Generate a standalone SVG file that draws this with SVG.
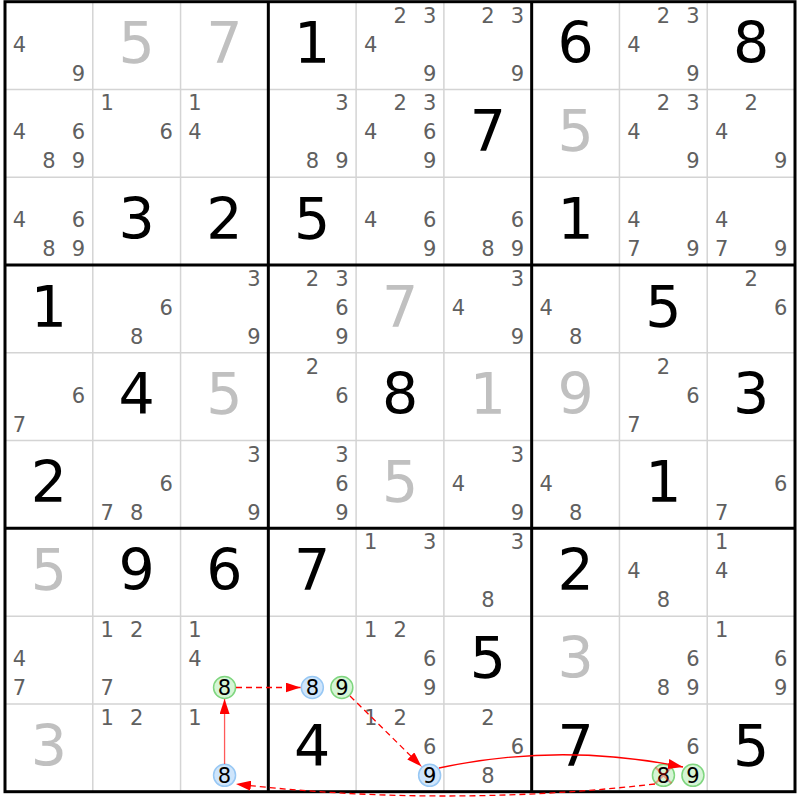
<svg xmlns="http://www.w3.org/2000/svg" width="800" height="800" viewBox="0 0 800 800">
<style>
text{font-family:"DejaVu Sans","Liberation Sans",sans-serif;text-anchor:middle}
.b{font-size:57px;fill:#000}
.g{font-size:57px;fill:#c0c0c0}
.c{font-size:21px;fill:#606060}
.h{font-size:21px;fill:#000}
.thin{stroke:#d4d4d4;stroke-width:1.5}
.thick{stroke:#000;stroke-width:3}
.cb{fill:#cfe5fb;stroke:#98c8f4;stroke-width:1.5}
.cg{fill:#d6f5d6;stroke:#7fd67f;stroke-width:1.5}
.ar{fill:none;stroke:#f00;stroke-width:1.3}
.da{stroke-dasharray:6 4}
</style>
<defs>
<marker id="ah" markerWidth="15" markerHeight="10" refX="15" refY="5" orient="auto" markerUnits="userSpaceOnUse"><path d="M0,0 L15,5 L0,10 z" fill="#f00"/></marker>
</defs>
<rect x="0" y="0" width="800" height="800" fill="#fff"/>
<g id="grid">
<path class="thin" d="M92.78,1.7V791.7M180.56,1.7V791.7M356.11,1.7V791.7M443.89,1.7V791.7M619.44,1.7V791.7M707.22,1.7V791.7M5,89.48H795M5,177.26H795M5,352.81H795M5,440.59H795M5,616.14H795M5,703.92H795"/>
<path class="thick" d="M268.33,1.7V791.7M531.67,1.7V791.7M5,265.03H795M5,528.37H795"/>
<rect class="thick" x="5" y="1.7" width="790" height="790" fill="none"/>
</g>
<!-- row 1 -->
<g id="r1c1" transform="translate(5,1.7)"><text class="c" x="14.5" y="50">4</text><text class="c" x="73.5" y="79">9</text></g>
<g id="r1c2" transform="translate(92.78,1.7)"><text class="g" x="43.9" y="61.6">5</text></g>
<g id="r1c3" transform="translate(180.56,1.7)"><text class="g" x="43.9" y="61.6">7</text></g>
<g id="r1c4" transform="translate(268.33,1.7)"><text class="b" x="43.9" y="61.6">1</text></g>
<g id="r1c5" transform="translate(356.11,1.7)"><text class="c" x="44" y="21">2</text><text class="c" x="73.5" y="21">3</text><text class="c" x="14.5" y="50">4</text><text class="c" x="73.5" y="79">9</text></g>
<g id="r1c6" transform="translate(443.89,1.7)"><text class="c" x="44" y="21">2</text><text class="c" x="73.5" y="21">3</text><text class="c" x="73.5" y="79">9</text></g>
<g id="r1c7" transform="translate(531.67,1.7)"><text class="b" x="43.9" y="61.6">6</text></g>
<g id="r1c8" transform="translate(619.44,1.7)"><text class="c" x="44" y="21">2</text><text class="c" x="73.5" y="21">3</text><text class="c" x="14.5" y="50">4</text><text class="c" x="73.5" y="79">9</text></g>
<g id="r1c9" transform="translate(707.22,1.7)"><text class="b" x="43.9" y="61.6">8</text></g>
<!-- row 2 -->
<g id="r2c1" transform="translate(5,89.48)"><text class="c" x="14.5" y="50">4</text><text class="c" x="73.5" y="50">6</text><text class="c" x="44" y="79">8</text><text class="c" x="73.5" y="79">9</text></g>
<g id="r2c2" transform="translate(92.78,89.48)"><text class="c" x="14.5" y="21">1</text><text class="c" x="73.5" y="50">6</text></g>
<g id="r2c3" transform="translate(180.56,89.48)"><text class="c" x="14.5" y="21">1</text><text class="c" x="14.5" y="50">4</text></g>
<g id="r2c4" transform="translate(268.33,89.48)"><text class="c" x="73.5" y="21">3</text><text class="c" x="44" y="79">8</text><text class="c" x="73.5" y="79">9</text></g>
<g id="r2c5" transform="translate(356.11,89.48)"><text class="c" x="44" y="21">2</text><text class="c" x="73.5" y="21">3</text><text class="c" x="14.5" y="50">4</text><text class="c" x="73.5" y="50">6</text><text class="c" x="73.5" y="79">9</text></g>
<g id="r2c6" transform="translate(443.89,89.48)"><text class="b" x="43.9" y="61.6">7</text></g>
<g id="r2c7" transform="translate(531.67,89.48)"><text class="g" x="43.9" y="61.6">5</text></g>
<g id="r2c8" transform="translate(619.44,89.48)"><text class="c" x="44" y="21">2</text><text class="c" x="73.5" y="21">3</text><text class="c" x="14.5" y="50">4</text><text class="c" x="73.5" y="79">9</text></g>
<g id="r2c9" transform="translate(707.22,89.48)"><text class="c" x="44" y="21">2</text><text class="c" x="14.5" y="50">4</text><text class="c" x="73.5" y="79">9</text></g>
<!-- row 3 -->
<g id="r3c1" transform="translate(5,177.26)"><text class="c" x="14.5" y="50">4</text><text class="c" x="73.5" y="50">6</text><text class="c" x="44" y="79">8</text><text class="c" x="73.5" y="79">9</text></g>
<g id="r3c2" transform="translate(92.78,177.26)"><text class="b" x="43.9" y="61.6">3</text></g>
<g id="r3c3" transform="translate(180.56,177.26)"><text class="b" x="43.9" y="61.6">2</text></g>
<g id="r3c4" transform="translate(268.33,177.26)"><text class="b" x="43.9" y="61.6">5</text></g>
<g id="r3c5" transform="translate(356.11,177.26)"><text class="c" x="14.5" y="50">4</text><text class="c" x="73.5" y="50">6</text><text class="c" x="73.5" y="79">9</text></g>
<g id="r3c6" transform="translate(443.89,177.26)"><text class="c" x="73.5" y="50">6</text><text class="c" x="44" y="79">8</text><text class="c" x="73.5" y="79">9</text></g>
<g id="r3c7" transform="translate(531.67,177.26)"><text class="b" x="43.9" y="61.6">1</text></g>
<g id="r3c8" transform="translate(619.44,177.26)"><text class="c" x="14.5" y="50">4</text><text class="c" x="14.5" y="79">7</text><text class="c" x="73.5" y="79">9</text></g>
<g id="r3c9" transform="translate(707.22,177.26)"><text class="c" x="14.5" y="50">4</text><text class="c" x="14.5" y="79">7</text><text class="c" x="73.5" y="79">9</text></g>
<!-- row 4 -->
<g id="r4c1" transform="translate(5,265.03)"><text class="b" x="43.9" y="61.6">1</text></g>
<g id="r4c2" transform="translate(92.78,265.03)"><text class="c" x="73.5" y="50">6</text><text class="c" x="44" y="79">8</text></g>
<g id="r4c3" transform="translate(180.56,265.03)"><text class="c" x="73.5" y="21">3</text><text class="c" x="73.5" y="79">9</text></g>
<g id="r4c4" transform="translate(268.33,265.03)"><text class="c" x="44" y="21">2</text><text class="c" x="73.5" y="21">3</text><text class="c" x="73.5" y="50">6</text><text class="c" x="73.5" y="79">9</text></g>
<g id="r4c5" transform="translate(356.11,265.03)"><text class="g" x="43.9" y="61.6">7</text></g>
<g id="r4c6" transform="translate(443.89,265.03)"><text class="c" x="73.5" y="21">3</text><text class="c" x="14.5" y="50">4</text><text class="c" x="73.5" y="79">9</text></g>
<g id="r4c7" transform="translate(531.67,265.03)"><text class="c" x="14.5" y="50">4</text><text class="c" x="44" y="79">8</text></g>
<g id="r4c8" transform="translate(619.44,265.03)"><text class="b" x="43.9" y="61.6">5</text></g>
<g id="r4c9" transform="translate(707.22,265.03)"><text class="c" x="44" y="21">2</text><text class="c" x="73.5" y="50">6</text></g>
<!-- row 5 -->
<g id="r5c1" transform="translate(5,352.81)"><text class="c" x="73.5" y="50">6</text><text class="c" x="14.5" y="79">7</text></g>
<g id="r5c2" transform="translate(92.78,352.81)"><text class="b" x="43.9" y="61.6">4</text></g>
<g id="r5c3" transform="translate(180.56,352.81)"><text class="g" x="43.9" y="61.6">5</text></g>
<g id="r5c4" transform="translate(268.33,352.81)"><text class="c" x="44" y="21">2</text><text class="c" x="73.5" y="50">6</text></g>
<g id="r5c5" transform="translate(356.11,352.81)"><text class="b" x="43.9" y="61.6">8</text></g>
<g id="r5c6" transform="translate(443.89,352.81)"><text class="g" x="43.9" y="61.6">1</text></g>
<g id="r5c7" transform="translate(531.67,352.81)"><text class="g" x="43.9" y="61.6">9</text></g>
<g id="r5c8" transform="translate(619.44,352.81)"><text class="c" x="44" y="21">2</text><text class="c" x="73.5" y="50">6</text><text class="c" x="14.5" y="79">7</text></g>
<g id="r5c9" transform="translate(707.22,352.81)"><text class="b" x="43.9" y="61.6">3</text></g>
<!-- row 6 -->
<g id="r6c1" transform="translate(5,440.59)"><text class="b" x="43.9" y="61.6">2</text></g>
<g id="r6c2" transform="translate(92.78,440.59)"><text class="c" x="73.5" y="50">6</text><text class="c" x="14.5" y="79">7</text><text class="c" x="44" y="79">8</text></g>
<g id="r6c3" transform="translate(180.56,440.59)"><text class="c" x="73.5" y="21">3</text><text class="c" x="73.5" y="79">9</text></g>
<g id="r6c4" transform="translate(268.33,440.59)"><text class="c" x="73.5" y="21">3</text><text class="c" x="73.5" y="50">6</text><text class="c" x="73.5" y="79">9</text></g>
<g id="r6c5" transform="translate(356.11,440.59)"><text class="g" x="43.9" y="61.6">5</text></g>
<g id="r6c6" transform="translate(443.89,440.59)"><text class="c" x="73.5" y="21">3</text><text class="c" x="14.5" y="50">4</text><text class="c" x="73.5" y="79">9</text></g>
<g id="r6c7" transform="translate(531.67,440.59)"><text class="c" x="14.5" y="50">4</text><text class="c" x="44" y="79">8</text></g>
<g id="r6c8" transform="translate(619.44,440.59)"><text class="b" x="43.9" y="61.6">1</text></g>
<g id="r6c9" transform="translate(707.22,440.59)"><text class="c" x="73.5" y="50">6</text><text class="c" x="14.5" y="79">7</text></g>
<!-- row 7 -->
<g id="r7c1" transform="translate(5,528.37)"><text class="g" x="43.9" y="61.6">5</text></g>
<g id="r7c2" transform="translate(92.78,528.37)"><text class="b" x="43.9" y="61.6">9</text></g>
<g id="r7c3" transform="translate(180.56,528.37)"><text class="b" x="43.9" y="61.6">6</text></g>
<g id="r7c4" transform="translate(268.33,528.37)"><text class="b" x="43.9" y="61.6">7</text></g>
<g id="r7c5" transform="translate(356.11,528.37)"><text class="c" x="14.5" y="21">1</text><text class="c" x="73.5" y="21">3</text></g>
<g id="r7c6" transform="translate(443.89,528.37)"><text class="c" x="73.5" y="21">3</text><text class="c" x="44" y="79">8</text></g>
<g id="r7c7" transform="translate(531.67,528.37)"><text class="b" x="43.9" y="61.6">2</text></g>
<g id="r7c8" transform="translate(619.44,528.37)"><text class="c" x="14.5" y="50">4</text><text class="c" x="44" y="79">8</text></g>
<g id="r7c9" transform="translate(707.22,528.37)"><text class="c" x="14.5" y="21">1</text><text class="c" x="14.5" y="50">4</text></g>
<!-- row 8 -->
<g id="r8c1" transform="translate(5,616.14)"><text class="c" x="14.5" y="50">4</text><text class="c" x="14.5" y="79">7</text></g>
<g id="r8c2" transform="translate(92.78,616.14)"><text class="c" x="14.5" y="21">1</text><text class="c" x="44" y="21">2</text><text class="c" x="14.5" y="79">7</text></g>
<g id="r8c3" transform="translate(180.56,616.14)"><text class="c" x="14.5" y="21">1</text><text class="c" x="14.5" y="50">4</text><circle class="cg" cx="44" cy="71.4" r="11"/><text class="h" x="44" y="79">8</text></g>
<g id="r8c4" transform="translate(268.33,616.14)"><circle class="cb" cx="44" cy="71.4" r="11"/><text class="h" x="44" y="79">8</text><circle class="cg" cx="73.5" cy="71.4" r="11"/><text class="h" x="73.5" y="79">9</text></g>
<g id="r8c5" transform="translate(356.11,616.14)"><text class="c" x="14.5" y="21">1</text><text class="c" x="44" y="21">2</text><text class="c" x="73.5" y="50">6</text><text class="c" x="73.5" y="79">9</text></g>
<g id="r8c6" transform="translate(443.89,616.14)"><text class="b" x="43.9" y="61.6">5</text></g>
<g id="r8c7" transform="translate(531.67,616.14)"><text class="g" x="43.9" y="61.6">3</text></g>
<g id="r8c8" transform="translate(619.44,616.14)"><text class="c" x="73.5" y="50">6</text><text class="c" x="44" y="79">8</text><text class="c" x="73.5" y="79">9</text></g>
<g id="r8c9" transform="translate(707.22,616.14)"><text class="c" x="14.5" y="21">1</text><text class="c" x="73.5" y="50">6</text><text class="c" x="73.5" y="79">9</text></g>
<!-- row 9 -->
<g id="r9c1" transform="translate(5,703.92)"><text class="g" x="43.9" y="61.6">3</text></g>
<g id="r9c2" transform="translate(92.78,703.92)"><text class="c" x="14.5" y="21">1</text><text class="c" x="44" y="21">2</text></g>
<g id="r9c3" transform="translate(180.56,703.92)"><text class="c" x="14.5" y="21">1</text><circle class="cb" cx="44" cy="71.4" r="11"/><text class="h" x="44" y="79">8</text></g>
<g id="r9c4" transform="translate(268.33,703.92)"><text class="b" x="43.9" y="61.6">4</text></g>
<g id="r9c5" transform="translate(356.11,703.92)"><text class="c" x="14.5" y="21">1</text><text class="c" x="44" y="21">2</text><text class="c" x="73.5" y="50">6</text><circle class="cb" cx="73.5" cy="71.4" r="11"/><text class="h" x="73.5" y="79">9</text></g>
<g id="r9c6" transform="translate(443.89,703.92)"><text class="c" x="44" y="21">2</text><text class="c" x="73.5" y="50">6</text><text class="c" x="44" y="79">8</text></g>
<g id="r9c7" transform="translate(531.67,703.92)"><text class="b" x="43.9" y="61.6">7</text></g>
<g id="r9c8" transform="translate(619.44,703.92)"><text class="c" x="73.5" y="50">6</text><circle class="cg" cx="44" cy="71.4" r="11"/><text class="h" x="44" y="79">8</text><path d="M36,63.4L52,79.4M52,63.4L36,79.4" stroke="#f00" stroke-opacity="0.35" stroke-width="2"/><circle class="cg" cx="73.5" cy="71.4" r="11"/><text class="h" x="73.5" y="79">9</text></g>
<g id="r9c9" transform="translate(707.22,703.92)"><text class="b" x="43.9" y="61.6">5</text></g>
<g id="connectors">
<path class="ar" stroke-opacity="0.65" d="M224.56,764 L224.56,699" marker-end="url(#ah)"/>
<path class="ar da" d="M236,687.5 L300.5,687.5" marker-end="url(#ah)"/>
<path class="ar da" d="M350,696 L421.5,766.5" marker-end="url(#ah)"/>
<path class="ar" d="M439,768 Q560,742 683,767" marker-end="url(#ah)"/>
<path class="ar da" d="M655,784 Q445,808 236,784" marker-end="url(#ah)"/>
</g>
</svg>
